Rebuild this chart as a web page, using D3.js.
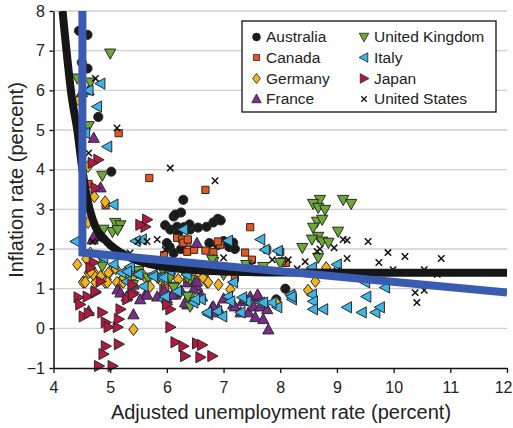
<!DOCTYPE html>
<html>
<head>
<meta charset="utf-8">
<script src="https://cdn.jsdelivr.net/npm/d3@7"></script>
<style>
  html, body { margin: 0; padding: 0; background: #fff; }
  svg { display: block; font-family: Arial, "Liberation Sans", Helvetica, sans-serif; }
</style>
</head>
<body>
<svg id="chart" width="513" height="428"></svg>
<script>
// Quarterly observations: [adjusted unemployment rate, inflation rate], percent
const australia = [
  [4.45,7.5],[4.6,7.4],[4.5,6.7],[4.6,6.55],[4.79,5.33],[5.02,3.95],[6.29,3.24],[6.12,2.82],[6.25,2.92],[6.9,2.76],
  [6.15,2.87],[5.97,2.6],[6.06,2.49],[6.18,2.56],[6.3,2.55],[6.41,2.49],[6.55,2.54],[6.7,2.56],[6.82,2.67],[6.95,2.72],
  [6.4,2.62],[6.2,2.4],[6.75,2.15],[6.9,2.1],[7.0,2.2],[7.1,2.05],[7.17,2.16],[7.2,2.0],[6.05,2.05],[6.12,1.9],[6.0,2.15],
  [6.25,2.0],[8.09,1.0],[7.93,0.73]
];
const canada = [
  [5.15,4.92],[5.69,3.79],[6.68,3.49],[4.62,3.64],[4.92,3.1],[7.47,2.55],[6.18,2.28],[6.27,2.24],[6.36,2.15],[6.36,1.93],
  [6.48,1.98],[6.68,1.96],[6.82,1.92],[6.94,2.11],[6.9,2.19],[7.38,1.91],[7.5,1.73],[7.77,1.98],[8.0,1.93],[8.1,1.65],
  [8.03,1.69],[7.2,1.27],[5.94,0.98],[5.95,1.85],[6.29,2.16],[6.37,2.24],[5.97,1.03],[6.36,1.18]
];
const germany = [
  [4.44,5.76],[4.61,4.08],[4.72,3.32],[4.91,3.19],[4.61,2.67],[4.65,1.9],[4.42,1.61],[4.53,1.18],[4.74,1.36],[4.94,1.23],
  [5.0,1.43],[5.18,1.18],[5.41,1.31],[5.65,1.23],[5.88,1.23],[6.2,1.23],[6.41,1.23],[6.71,1.16],[6.91,1.1],[7.12,0.98],
  [5.41,-0.03],[4.52,1.16],[4.74,1.16],[4.91,1.16],[5.12,1.16],[5.23,1.16],[4.62,1.4],[4.7,1.36],[4.83,1.31],[4.97,1.4],
  [5.7,1.05],[4.58,1.75],[5.1,1.5],[5.3,1.35],[5.55,1.4],[6.05,1.3],[6.55,1.3],[7.93,0.65],[8.49,0.96],[8.62,1.18],
  [8.81,1.53],[4.65,1.43],[4.56,1.16],[4.95,1.16],[5.24,1.28],[6.64,1.28],[6.73,1.16]
];
const france = [
  [4.62,6.0],[4.5,5.95],[4.71,4.8],[4.83,3.55],[4.69,2.24],[4.71,2.31],[6.53,2.15],[6.82,1.73],
  [6.41,1.16],[6.53,1.06],[6.15,0.85],[6.36,0.6],[6.59,0.8],[6.8,0.53],[6.91,0.5],[7.17,0.6],[7.33,0.68],[7.44,0.4],
  [7.56,0.28],[7.7,0.23],[7.79,-0.03],[7.62,0.8],[7.47,0.8],[7.38,0.73],[7.53,0.55],[7.65,0.55],[7.77,0.48],[7.3,0.4],
  [5.13,0.98],[5.41,0.35],[4.62,0.43],[5.36,0.93],[5.62,0.85],[5.83,0.8],[6.36,0.73],[6.47,0.98],[6.12,0.9],[5.53,0.73],
  [5.29,0.8],[5.18,0.9],[6.82,0.4],[5.95,0.95],[6.0,0.75],[6.25,0.95],[7.0,0.75],
  [5.41,1.1],[5.65,0.85],[6.1,0.85],[6.37,1.16],[6.53,1.18],[6.32,0.65],[6.62,0.8],[7.6,0.85],[6.82,0.55],[7.2,0.55]
];
const unitedKingdom = [
  [5.0,6.93],[4.42,6.3],[4.65,6.2],[4.62,5.1],[4.86,3.85],[5.09,2.66],[5.18,2.6],[5.04,2.43],[5.13,2.48],[4.88,2.49],
  [4.83,1.81],[5.66,1.28],[5.83,1.28],[6.11,1.05],[6.41,1.23],[6.41,0.55],[6.82,1.68],[6.41,0.8],[6.12,1.03],
  [5.3,1.35],[5.5,1.45],[5.95,1.4],[6.25,1.55],[6.6,1.5],[7.0,1.35],[7.4,1.6],[7.7,1.55],[5.4,1.1],
  [4.86,1.56],[5.85,1.28],[6.06,1.28],[6.36,1.28],[6.37,0.8],[6.8,1.73],
  [8.7,3.24],[8.58,3.14],[8.67,3.04],[8.79,2.99],[9.11,3.24],[9.25,3.14],[8.65,2.69],[8.74,2.74],[8.58,2.54],[8.67,2.31],
  [8.56,2.24],[8.74,2.19],[8.85,2.16],[9.02,2.44],[8.39,2.03],[8.67,1.78],[8.0,1.65]
];
const italy = [
  [4.62,6.0],[4.83,6.17],[4.77,5.59],[4.95,4.58],[4.56,4.92],[5.06,3.12],[4.39,2.19],[5.56,2.24],[5.45,2.2],[6.29,2.49],
  [7.08,2.21],[7.65,2.24],[7.73,1.98],[7.96,1.95],[9.0,1.61],[8.56,1.53],[8.18,0.85],[8.21,0.73],[8.56,0.85],[8.58,0.68],
  [8.58,0.48],[8.76,0.48],[9.18,0.53],[9.44,0.4],[9.52,0.8],[9.5,1.16],[9.68,0.4],[9.76,0.53],[9.85,1.03],
  [7.08,0.8],[7.3,0.4],[6.73,0.35],[6.89,0.43],[6.98,0.3],[6.6,0.73],[7.65,0.65],[7.95,0.53],[7.85,0.65],
  [5.06,1.61],[5.29,1.18],[5.47,1.36],[5.59,1.06],[5.88,1.28],[5.94,0.73],[6.18,0.93],[6.47,0.65],[6.71,0.4],
  [7.17,1.16],[7.41,0.68],[4.88,1.78],[5.2,1.4],[5.35,1.55],[5.75,1.35],[6.05,1.45],[6.35,1.35],[6.65,1.45],
  [5.3,1.43],[5.5,1.36],[5.76,1.31],[5.94,1.28],[5.97,0.8],[6.5,0.73],[7.12,0.68],[7.33,0.78],[7.7,0.65],[8.2,0.8]
];
const japan = [
  [4.79,4.25],[4.69,4.17],[4.74,3.54],[5.65,2.74],[5.62,2.56],[5.53,2.61],[4.71,1.66],[4.65,1.53],[4.83,1.18],
  [4.44,0.78],[4.6,0.8],[4.74,0.9],[4.47,0.6],[4.53,0.3],[4.62,0.38],[4.86,0.4],[4.92,0.15],[4.97,0.03],[5.13,0.03],
  [5.15,0.23],[5.18,0.48],[4.92,-0.45],[4.88,-0.65],[5.15,-0.4],[4.8,-0.95],[5.04,-0.95],[5.3,0.73],[5.41,0.9],
  [6.06,0.03],[6.15,-0.35],[6.29,-0.45],[6.32,-0.7],[6.53,-0.38],[6.62,-0.42],[6.59,-0.73],[6.8,-0.7],
  [6.06,0.48],[6.0,0.6],[4.74,0.93],[5.39,1.1],[5.4,0.85]
];
const unitedStates = [
  [4.74,6.3],[5.12,5.05],[4.62,4.42],[6.06,4.04],[6.85,3.72],[5.49,2.19],[5.65,2.19],[5.83,2.24],[4.69,2.19],[4.8,2.25],
  [5.97,1.98],[7.0,1.78],[7.86,1.73],[8.14,1.73],[8.44,1.68],[8.65,1.94],[8.7,2.0],[8.95,2.03],[9.11,2.24],[9.18,2.22],
  [9.18,1.76],[9.55,2.19],[9.74,1.66],[9.9,1.91],[10.2,1.81],[9.99,1.48],[10.54,1.48],[10.77,1.36],[10.84,1.76],
  [10.38,0.9],[10.54,0.96],[10.41,0.65],[9.4,1.4],[9.0,1.45],[8.3,1.5],[7.5,1.6],[6.2,1.7],[5.35,1.9]
];

// Estimated Phillips curves
const curveNonlinear = [
  [4.16,8],[4.33,5.75],[4.42,5.0],[4.5,4.1],[4.6,3.24],[4.74,2.56],[4.9,2.25],[5.0,2.1],[5.2,1.9],[5.4,1.75],
  [5.7,1.62],[6,1.54],[6.5,1.47],[7,1.43],[8,1.41],[10,1.4],[12,1.4]
];
const curveKinked = [[4.51,8],[4.51,1.91],[12,0.9]];

const xTicks = [4,5,6,7,8,9,10,11,12];
const yTicks = [-1,0,1,2,3,4,5,6,7,8];

const seriesNames = ["Australia","Canada","Germany","France","United Kingdom","Italy","Japan","United States"];
const seriesData  = [australia, canada, germany, france, unitedKingdom, italy, japan, unitedStates];
const seriesShape = ["circle","square","diamond","up","down","left","right","cross"];
const seriesColor = ["#1b1b1b","#e4551f","#f4b31b","#7b2b8c","#6aa933","#3db5e6","#b3193f","#111"];

const svg = d3.select("#chart");
const x = d3.scaleLinear().domain([4,12]).range([53.5,507]);
const y = d3.scaleLinear().domain([-1,8]).range([368,11]);

// horizontal gridlines
svg.append("g").selectAll("line").data(yTicks.filter(d => d > -1)).join("line")
  .attr("x1", x(4)).attr("x2", x(12))
  .attr("y1", d => y(d)).attr("y2", d => y(d))
  .attr("stroke", "#cfcfcf").attr("stroke-width", 1.4);

function shapePath(s) {
  switch (s) {
    case "circle":  return d3.symbol(d3.symbolCircle, 66)();
    case "square":  return "M-3.6,-3.6H3.6V3.6H-3.6Z";
    case "diamond": return "M0,-6L4.6,0L0,6L-4.6,0Z";
    case "up":      return "M0,-5.8L5.6,4.4L-5.6,4.4Z";
    case "down":    return "M0,5.8L5.6,-4.4L-5.6,-4.4Z";
    case "left":    return "M-5.8,0L4.4,-5.6L4.4,5.6Z";
    case "right":   return "M5.8,0L-4.4,-5.6L-4.4,5.6Z";
    case "cross":   return "M-3.2,-3.2L3.2,3.2M-3.2,3.2L3.2,-3.2";
  }
}
function styleMark(sel, i) {
  if (seriesShape[i] === "cross") {
    sel.attr("fill", "none").attr("stroke", seriesColor[i]).attr("stroke-width", 1.5);
  } else {
    sel.attr("fill", seriesColor[i]).attr("stroke", "#2a2a2a").attr("stroke-width", 1);
  }
}

// scatter points
const pts = svg.append("g");
seriesData.forEach((data, i) => {
  pts.append("g").selectAll("path").data(data).join("path")
    .attr("d", shapePath(seriesShape[i]))
    .attr("transform", d => `translate(${x(d[0])},${y(d[1])})`)
    .call(styleMark, i);
});

// fitted curves
svg.append("clipPath").attr("id", "plotClip").append("rect")
  .attr("x", x(4)).attr("y", y(8)).attr("width", x(12) - x(4)).attr("height", y(-1) - y(8));
const curves = svg.append("g").attr("clip-path", "url(#plotClip)");
curves.append("path").datum(curveNonlinear)
  .attr("d", d3.line().x(d => x(d[0])).y(d => y(d[1])).curve(d3.curveMonotoneX))
  .attr("fill", "none").attr("stroke", "#161616").attr("stroke-width", 8);
curves.append("path").datum(curveKinked)
  .attr("d", d3.line().x(d => x(d[0])).y(d => y(d[1])))
  .attr("fill", "none").attr("stroke", "#3a5bb2").attr("stroke-width", 8)
  .attr("stroke-linejoin", "miter");

// axes
const xAxis = svg.append("g").attr("transform", `translate(0,${y(-1)})`)
  .call(d3.axisBottom(x).tickValues(xTicks).tickFormat(d3.format("d")).tickSize(5).tickSizeOuter(0).tickPadding(9));
const yAxis = svg.append("g").attr("transform", `translate(${x(4)},0)`)
  .call(d3.axisLeft(y).tickValues(yTicks).tickFormat(d3.format("d")).tickSize(4).tickSizeOuter(0).tickPadding(4.5));
[xAxis, yAxis].forEach(a => {
  a.select(".domain").attr("stroke", "#111").attr("stroke-width", 1.5);
  a.selectAll(".tick line").attr("stroke", "#111").attr("stroke-width", 1.3);
  a.selectAll(".tick text").attr("font-size", 16).attr("fill", "#222")
    .attr("font-family", "Arial, 'Liberation Sans', sans-serif");
});
// keep the last x label inside the frame
xAxis.selectAll(".tick text").filter(d => d === 12).attr("text-anchor", "end").attr("x", 5);

// axis titles
svg.append("text").attr("x", 281).attr("y", 419).attr("text-anchor", "middle")
  .attr("font-size", 20).attr("fill", "#222").text("Adjusted unemployment rate (percent)");
svg.append("text").attr("transform", "translate(23,180) rotate(-90)").attr("text-anchor", "middle")
  .attr("font-size", 20).attr("fill", "#222").text("Inflation rate (percent)");

// legend
const lg = svg.append("g");
lg.append("rect").attr("x", 242).attr("y", 21).attr("width", 254).attr("height", 91)
  .attr("fill", "#fff").attr("stroke", "#111").attr("stroke-width", 1.3);
const rowY = [37, 57.5, 78.5, 99];
seriesNames.forEach((name, i) => {
  const col = Math.floor(i / 4), row = i % 4;
  const sx = col === 0 ? 256.5 : 364, tx = col === 0 ? 266 : 374;
  lg.append("path").attr("d", shapePath(seriesShape[i]))
    .attr("transform", `translate(${sx},${rowY[row]}) scale(0.85)`)
    .call(styleMark, i);
  lg.append("text").attr("x", tx).attr("y", rowY[row]).attr("dy", "0.35em")
    .attr("font-size", 15.5).attr("fill", "#222").text(name);
});
</script>
</body>
</html>
